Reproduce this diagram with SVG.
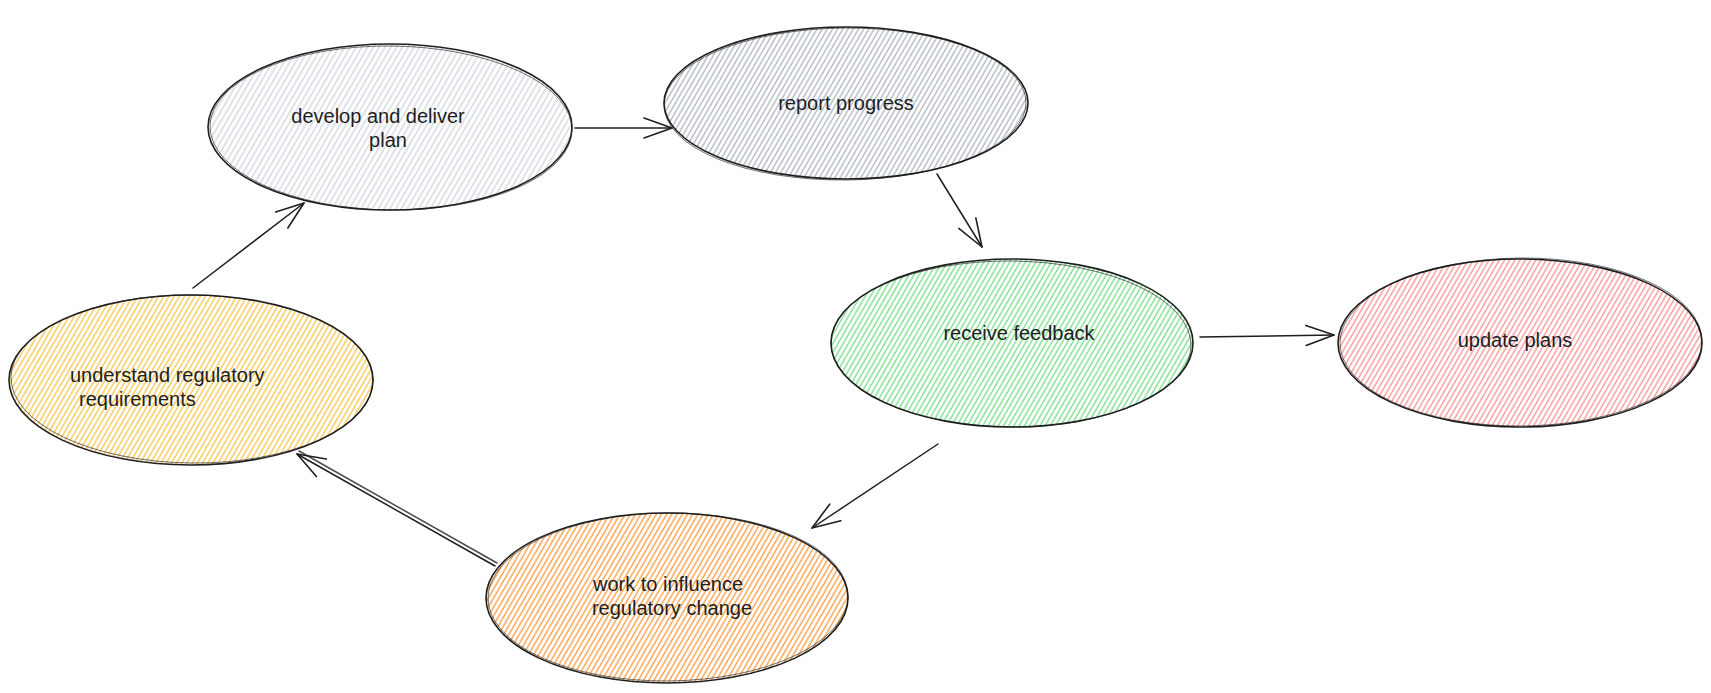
<svg xmlns="http://www.w3.org/2000/svg" width="1711" height="693" viewBox="0 0 1711 693">
  <defs>
    <pattern id="h-lightgray" width="5" height="5" patternUnits="userSpaceOnUse" patternTransform="rotate(30)">
      <line x1="2" y1="0" x2="2" y2="5" stroke="#ced4da" stroke-width="1.3"/>
    </pattern>
    <pattern id="h-gray" width="4.5" height="5" patternUnits="userSpaceOnUse" patternTransform="rotate(30)">
      <line x1="2" y1="0" x2="2" y2="5" stroke="#adb5bd" stroke-width="1.3"/>
    </pattern>
    <pattern id="h-green" width="4.5" height="5" patternUnits="userSpaceOnUse" patternTransform="rotate(30)">
      <line x1="2" y1="0" x2="2" y2="5" stroke="#69db7c" stroke-width="1.2"/>
    </pattern>
    <pattern id="h-red" width="4.5" height="5" patternUnits="userSpaceOnUse" patternTransform="rotate(30)">
      <line x1="2" y1="0" x2="2" y2="5" stroke="#ff8787" stroke-width="1.2"/>
    </pattern>
    <pattern id="h-yellow" width="4.5" height="5" patternUnits="userSpaceOnUse" patternTransform="rotate(30)">
      <line x1="2" y1="0" x2="2" y2="5" stroke="#fab005" stroke-width="1.2" opacity="0.8"/>
    </pattern>
    <pattern id="h-orange" width="4.5" height="5" patternUnits="userSpaceOnUse" patternTransform="rotate(30)">
      <line x1="2" y1="0" x2="2" y2="5" stroke="#ff922b" stroke-width="1.2"/>
    </pattern>
    <marker id="arrow" viewBox="-32 -14 36 28" refX="0" refY="0" markerWidth="36" markerHeight="28" markerUnits="userSpaceOnUse" orient="auto">
      <path d="M-28,-10 L0,0 L-28,10" fill="none" stroke="#1e1e1e" stroke-width="1.6" stroke-linecap="round" stroke-linejoin="round"/>
    </marker>
  </defs>
  <style>
    .outline { fill: none; stroke: #1e1e1e; stroke-width: 1.6; }
    .outline2 { fill: none; stroke: #1e1e1e; stroke-width: 0.9; opacity: 0.7; }
    .label { font-family: "Liberation Sans", "Open Sans", sans-serif; font-size: 20px; fill: #1e1e1e; text-anchor: middle; }
    .label-start { text-anchor: start; }
    .conn { fill: none; stroke: #1e1e1e; stroke-width: 1.5; stroke-linecap: round; }
  </style>
  <rect width="1711" height="693" fill="#ffffff"/>

  <g id="node-develop">
    <ellipse cx="390" cy="127" rx="182" ry="83" fill="url(#h-lightgray)"/>
    <ellipse class="outline" cx="390" cy="127" rx="182" ry="83"/>
    <ellipse class="outline2" cx="391" cy="128" rx="181" ry="82" transform="rotate(0.6 390 127)"/>
    <text class="label" x="378" y="123">develop and deliver</text>
    <text class="label" x="388" y="147">plan</text>
  </g>

  <g id="node-report">
    <ellipse cx="846" cy="103" rx="182" ry="76" fill="url(#h-gray)"/>
    <ellipse class="outline" cx="846" cy="103" rx="182" ry="76"/>
    <ellipse class="outline2" cx="845" cy="104" rx="181" ry="76" transform="rotate(-0.5 846 103)"/>
    <text class="label" x="846" y="110">report progress</text>
  </g>

  <g id="node-feedback">
    <ellipse cx="1012" cy="343" rx="181" ry="84" fill="url(#h-green)"/>
    <ellipse class="outline" cx="1012" cy="343" rx="181" ry="84"/>
    <ellipse class="outline2" cx="1011" cy="344" rx="180" ry="83" transform="rotate(0.5 1012 343)"/>
    <text class="label" x="1019" y="340">receive feedback</text>
  </g>

  <g id="node-update">
    <ellipse cx="1520" cy="343" rx="182" ry="84" fill="url(#h-red)"/>
    <ellipse class="outline" cx="1520" cy="343" rx="182" ry="84"/>
    <ellipse class="outline2" cx="1521" cy="342" rx="181" ry="84" transform="rotate(-0.4 1520 343)"/>
    <text class="label" x="1515" y="347">update plans</text>
  </g>

  <g id="node-understand">
    <ellipse cx="191" cy="380" rx="182" ry="85" fill="url(#h-yellow)"/>
    <ellipse class="outline" cx="191" cy="380" rx="182" ry="85"/>
    <ellipse class="outline2" cx="192" cy="379" rx="181" ry="84" transform="rotate(0.6 191 380)"/>
    <text class="label label-start" x="70" y="382">understand regulatory</text>
    <text class="label label-start" x="79" y="406">requirements</text>
  </g>

  <g id="node-work">
    <ellipse cx="667" cy="598" rx="181" ry="85" fill="url(#h-orange)"/>
    <ellipse class="outline" cx="667" cy="598" rx="181" ry="85"/>
    <ellipse class="outline2" cx="668" cy="597" rx="180" ry="84" transform="rotate(-0.5 667 598)"/>
    <text class="label" x="668" y="591">work to influence</text>
    <text class="label" x="672" y="615">regulatory change</text>
  </g>

  <g id="connectors">
    <path class="conn" d="M575,128 L672,128" marker-end="url(#arrow)"/>
    <path class="conn" d="M937,174 L982,247" marker-end="url(#arrow)"/>
    <path class="conn" d="M1200,337 L1334,335" marker-end="url(#arrow)"/>
    <path class="conn" d="M938,444 L812,528" marker-end="url(#arrow)"/>
    <path class="conn" d="M495,566 L297,454" marker-end="url(#arrow)"/>
    <path class="conn" d="M497,563 L299,451" stroke-width="0.9" opacity="0.8"/>
    <path class="conn" d="M193,288 L304,203" marker-end="url(#arrow)"/>
  </g>
</svg>
